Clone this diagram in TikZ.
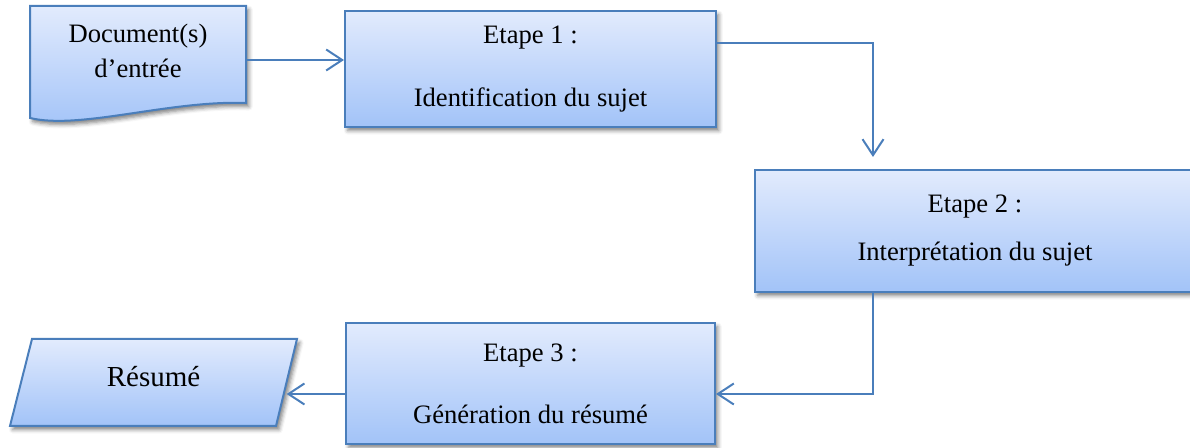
\documentclass[tikz,border=0pt]{standalone}
\usepackage{fontspec}
\setmainfont{Liberation Serif}
\usetikzlibrary{arrows.meta,shadows.blur}
\definecolor{edge}{RGB}{74,126,187}
\definecolor{filltop}{RGB}{226,235,253}
\definecolor{fillbot}{RGB}{162,195,248}
\tikzset{
  softshadow/.style={blur shadow={shadow xshift=1.4pt,shadow yshift=-1.8pt,
      shadow blur radius=2pt,shadow opacity=50}},
  boxfill/.style={draw=edge,line width=1pt,top color=filltop,bottom color=fillbot,softshadow},
  stepbox/.style={boxfill,rectangle,align=center,inner sep=0pt},
  flow/.style={draw=edge,line width=1pt,-{Straight Barb[length=8pt,width=10.5pt,line width=1pt]}},
}
\begin{document}
\begin{tikzpicture}[x=0.5pt,y=-0.5pt]
\useasboundingbox (0,0) rectangle (1190,448);

% input document: outline with a wavy bottom, then its text node
\coordinate (dnw) at (30,6);
\coordinate (dne) at (246,6);
\coordinate (dse) at (246,103);
\coordinate (dsw) at (30,118);
\path[boxfill] (dnw) -- (dne) -- (dse)
    .. controls +(-76,-3) and +(50,12) .. (dsw) -- cycle;
\node[rectangle,minimum width=108pt,minimum height=48.5pt,inner sep=0pt,align=center,
      font=\fontsize{13.3}{17.5}\selectfont] (doc) at (138,51) {Document(s)\\d’entrée};

% processing steps
\node[stepbox,minimum width=185.5pt,minimum height=58pt,
      font=\fontsize{13.3}{31.5}\selectfont] (E1) at (530.5,69)
      {Etape 1 :\\Identification du sujet};
\node[stepbox,minimum width=220pt,minimum height=61pt,
      font=\fontsize{13.3}{24}\selectfont] (E2) at (975,231)
      {Etape 2 :\\Interprétation du sujet};
\node[stepbox,minimum width=184.5pt,minimum height=60.5pt,
      font=\fontsize{13.3}{31}\selectfont] (E3) at (530.5,383.5)
      {Etape 3 :\\Génération du résumé};

% output: slanted data shape, then its text node
\coordinate (rnw) at (32,339);
\coordinate (rne) at (297,339);
\coordinate (rse) at (276,426);
\coordinate (rsw) at (10,426);
\path[boxfill] (rnw) -- (rne) -- (rse) -- (rsw) -- cycle;
\node[inner sep=0pt,font=\fontsize{14.5}{17}\selectfont] (R) at (153.5,377) {Résumé};

% connectors
\coordinate (a1) at (doc.east |- 0,60);
\coordinate (a2) at ([yshift=13pt]E1.east);
\coordinate (t2) at (873,157);
\coordinate (b3) at ([yshift=-5.25pt]E3.east);
\coordinate (t4) at (R.east |- b3);

\draw[flow] (dne |- a1) -- (a1 -| E1.west);
\draw[flow] (a2) -| (t2);
\draw[flow] (E2.south -| t2) |- (b3);
\draw[flow] (E3.west |- b3) -- ([xshift=43pt]t4);
\end{tikzpicture}
\end{document}
